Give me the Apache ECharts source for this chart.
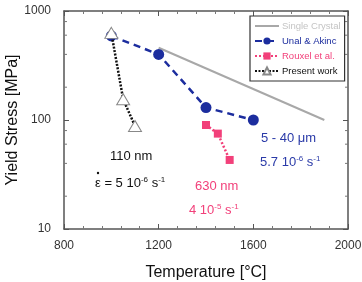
<!DOCTYPE html>
<html>
<head>
<meta charset="utf-8">
<script src="https://cdn.jsdelivr.net/npm/echarts@6/dist/echarts.min.js"></script>
<style>
  html, body { margin: 0; padding: 0; background: #fff; }
  #chart { width: 362px; height: 282px; }
</style>
</head>
<body>
<div id="chart"></div>
<script>
// temperature (C) vs yield stress (MPa)
const crystalT = [1200, 1900];
const crystalY = [460, 100];
const unalT = [1000, 1200, 1400, 1600];
const unalY = [590, 400, 130, 100];
const rouxelT = [1400, 1450, 1500];
const rouxelY = [90, 75, 43];
const presentT = [1000, 1050, 1100];
const presentY = [630, 155, 88];
const xTicks = [800, 1200, 1600, 2000];
const yMinorTicks = [20, 40, 60, 80, 200, 400, 600, 800];

const pairs = (xs, ys) => xs.map((x, i) => [x, ys[i]]);

const blue = "#1c2d9e";
const pink = "#f2407a";
const font = "Liberation Sans, Arial, sans-serif";

const chart = echarts.init(document.getElementById("chart"));

const axisLine = { lineStyle: { color: "#555", width: 1.5 } };
const xBase = {
  type: "value",
  min: 800,
  max: 2000,
  interval: 400,
  axisLine: axisLine,
  axisTick: { inside: true, length: 5, lineStyle: { color: "#555" } },
  minorTick: { show: true, splitNumber: 5, length: 3, lineStyle: { color: "#777" } },
  splitLine: { show: false },
};
const yBase = {
  type: "log",
  logBase: 10,
  min: 10,
  max: 1000,
  axisLine: axisLine,
  axisTick: { inside: true, length: 5, lineStyle: { color: "#555" } },
  splitLine: { show: false },
};

const sup = { fontSize: 8, verticalAlign: "top", lineHeight: 14, padding: [0, 0, 6, 0] };
function note(x, y, text, color) {
  return {
    type: "text",
    left: x,
    top: y,
    style: {
      text: text,
      fill: color,
      font: "13px " + font,
      rich: {
        n: { fontSize: 13, fill: color, fontFamily: font, lineHeight: 14 },
        s: Object.assign({ fill: color, fontFamily: font }, sup),
      },
    },
  };
}

const option = {
  animation: false,
  textStyle: { fontFamily: font },
  grid: { left: 64, right: 14, top: 11, bottom: 53, containLabel: false, outerBoundsMode: "none" },
  xAxis: [
    Object.assign({}, xBase, {
      position: "bottom",
      axisLabel: {
        color: "#333",
        fontSize: 12,
        margin: 11,
        formatter: (v) => (xTicks.includes(v) ? String(v) : ""),
      },
      name: "Temperature [°C]",
      nameLocation: "middle",
      nameGap: 36,
      nameMoveOverlap: false,
      nameTextStyle: { fontSize: 16, color: "#111" },
    }),
    Object.assign({}, xBase, { position: "top", axisLabel: { show: false } }),
  ],
  yAxis: [
    Object.assign({}, yBase, {
      position: "left",
      axisLabel: { color: "#333", fontSize: 12, margin: 13, formatter: (v) => String(v) },
      name: "Yield Stress [MPa]",
      nameLocation: "middle",
      nameGap: 43,
      nameMoveOverlap: false,
      nameTextStyle: { fontSize: 16, color: "#111" },
    }),
    Object.assign({}, yBase, { position: "right", axisLabel: { show: false } }),
  ],
  legend: {
    orient: "vertical",
    left: 250,
    top: 16,
    backgroundColor: "#fff",
    borderColor: "#333",
    borderWidth: 1.2,
    padding: [5, 4, 5, 4],
    itemGap: 5,
    itemWidth: 24,
    itemHeight: 9,
    textStyle: { fontSize: 9.5, fontFamily: font, padding: [0, 0, 0, -2] },
    data: [
      { name: "Single Crystal", textStyle: { color: "#c4c4c4" }, itemStyle: { opacity: 0 } },
      { name: "Unal & Akinc", textStyle: { color: blue } },
      { name: "Rouxel et al.", textStyle: { color: pink } },
      { name: "Present work", textStyle: { color: "#111" } },
    ],
  },
  graphic: [
    note(110, 150, "110 nm", "#111"),
    note(95, 176, "{n|ε = 5 10}{s|-6}{n| s}{s|-1}", "#111"),
    { type: "circle", shape: { cx: 98, cy: 173, r: 1.2 }, style: { fill: "#111" } },
    note(261, 132, "5 - 40 μm", "#2a3aa8"),
    note(260, 155, "{n|5.7 10}{s|-6}{n| s}{s|-1}", "#2a3aa8"),
    note(195, 180, "630 nm", pink),
    note(189, 203, "{n|4 10}{s|-5}{n| s}{s|-1}", pink),
  ],
  series: [
    {
      name: "Single Crystal",
      type: "line",
      data: pairs(crystalT, crystalY),
      showSymbol: false,
      symbol: "none",
      lineStyle: { color: "#a8a8a8", width: 2 },
      itemStyle: { color: "#a8a8a8" },
    },
    {
      name: "Unal & Akinc",
      type: "line",
      data: pairs(unalT, unalY),
      symbol: "circle",
      symbolSize: 11,
      lineStyle: { color: blue, width: 2.5, type: [7, 5] },
      itemStyle: { color: blue },
      z: 3,
    },
    {
      name: "Rouxel et al.",
      type: "line",
      data: pairs(rouxelT, rouxelY),
      symbol: "rect",
      symbolSize: 8,
      lineStyle: { color: pink, width: 2.5, type: [2, 2] },
      itemStyle: { color: pink },
    },
    {
      name: "Present work",
      type: "line",
      data: pairs(presentT, presentY),
      symbol: "triangle",
      symbolSize: [13, 11],
      lineStyle: { color: "#111", width: 2.5, type: [2, 1.5] },
      itemStyle: { color: "#fff", borderColor: "#888", borderWidth: 1 },
      z: 4,
    },
    {
      // log minor ticks on the left and right frame
      type: "custom",
      silent: true,
      data: yMinorTicks.map((v) => [v]),
      renderItem: (params, api) => {
        const v = api.value(0);
        const l = api.coord([800, v]);
        const r = api.coord([2000, v]);
        const st = { stroke: "#777", lineWidth: 1 };
        return {
          type: "group",
          children: [
            { type: "line", shape: { x1: l[0], y1: l[1], x2: l[0] + 3, y2: l[1] }, style: st },
            { type: "line", shape: { x1: r[0], y1: r[1], x2: r[0] - 3, y2: r[1] }, style: st },
          ],
        };
      },
    },
  ],
};

chart.setOption(option);
</script>
</body>
</html>
